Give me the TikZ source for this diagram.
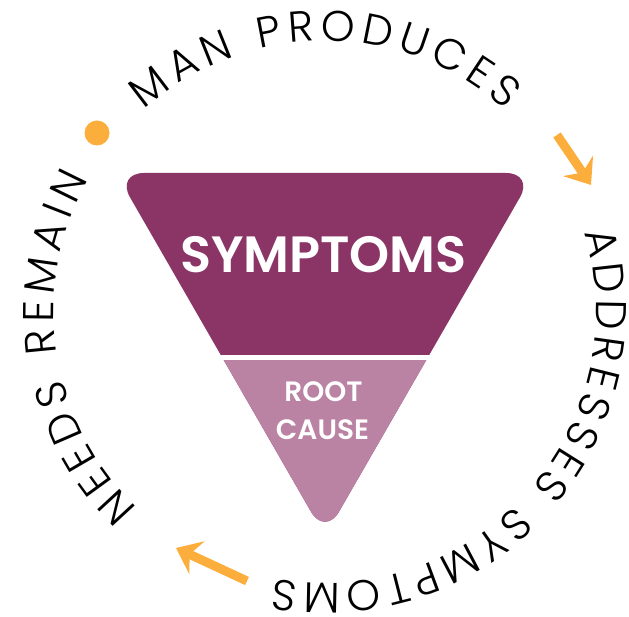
\documentclass[tikz,border=0pt]{standalone}
\usepackage{fontspec}
\setmainfont{Poppins}
\newfontfamily\ringfont{Poppins Light}
\newfontfamily\headfont{Poppins SemiBold}
\usetikzlibrary{decorations.text,arrows.meta,calc}
\definecolor{symcol}{RGB}{139,52,102}
\definecolor{rootcol}{RGB}{186,130,163}
\definecolor{orangec}{RGB}{252,174,60}
\newcommand\rtk{\kern6pt}
\newcommand\rtkb{\kern5pt}
\newcommand\rws{\kern20pt}
\tikzset{
  ringtext/.style={decorate, decoration={text along path, text={|\ringfont\fontsize{43pt}{43pt}\selectfont|#1}, text align=center}},
  orarrow/.style={draw=orangec, line width=9pt, -{Stealth[length=23pt,width=36pt,inset=8pt]}},
  tri/.style={rounded corners=28pt},
  headtext/.style={text=white, inner sep=0pt, anchor=base},
}
\begin{document}
\begin{tikzpicture}[x=1pt,y=1pt]
\useasboundingbox (0,0) rectangle (629,616);
\coordinate (c) at (325,304);
\coordinate (tl) at (116,443);
\coordinate (tr) at (534,443);
\coordinate (ap) at (325,80);
% triangle
\fill[symcol, tri] (tl) -- (tr) -- (ap) -- cycle;
\begin{scope}
\clip (0,0) rectangle (629,258);
\fill[rootcol, tri] (tl) -- (tr) -- (ap) -- cycle;
\end{scope}
\coordinate (gl) at (150,258);
\coordinate (gr) at (500,258);
\draw[white, line width=5pt] (gl) -- (gr);
\node[headtext, font=\headfont\fontsize{51pt}{51pt}\selectfont] (sym) at (323.5,343) {SYMPTOMS};
\node[headtext, font=\headfont\fontsize{28pt}{28pt}\selectfont] (root) at (323.5,214) {ROOT};
\node[headtext, font=\headfont\fontsize{28pt}{28pt}\selectfont] (cause) at (322.5,176) {CAUSE};
% ring text
\path[ringtext={{M\rtk}{A\rtk}{N\rtk}{\rws}{P\rtk}{R\rtk}{O\rtk}{D\rtk}{U\rtk}{C\rtk}{E\rtk}{S}}]
  ($(c)+(150:271)$) arc[start angle=150, end angle=30, radius=271pt];
\path[ringtext={{A\rtkb}{D\rtkb}{D\rtkb}{R\rtkb}{E\rtkb}{S\rtkb}{S\rtkb}{E\rtkb}{S\rtkb}{\rws}{S\rtkb}{Y\rtkb}{M\rtkb}{P\rtkb}{T\rtkb}{O\rtkb}{M\rtkb}{S}}]
  ($(c)+(40:271)$) arc[start angle=40, end angle=-123.6, radius=271pt];
\path[ringtext={{N\rtk}{E\rtk}{E\rtk}{D\rtk}{S\rtk}{\rws}{R\rtk}{E\rtk}{M\rtk}{A\rtk}{I\rtk}{N}}]
  ($(c)+(245:271)$) arc[start angle=245, end angle=132.2, radius=271pt];
% arrows and dot
\coordinate (a1s) at (557,481);
\coordinate (a1e) at (591,431);
\draw[orarrow] (a1s) -- (a1e);
\coordinate (a2s) at (247,35);
\coordinate (a2e) at (176,68);
\draw[orarrow] (a2s) -- (a2e);
\node[circle, fill=orangec, minimum size=25pt, inner sep=0pt] (dot) at (97,483) {};
\end{tikzpicture}
\end{document}
